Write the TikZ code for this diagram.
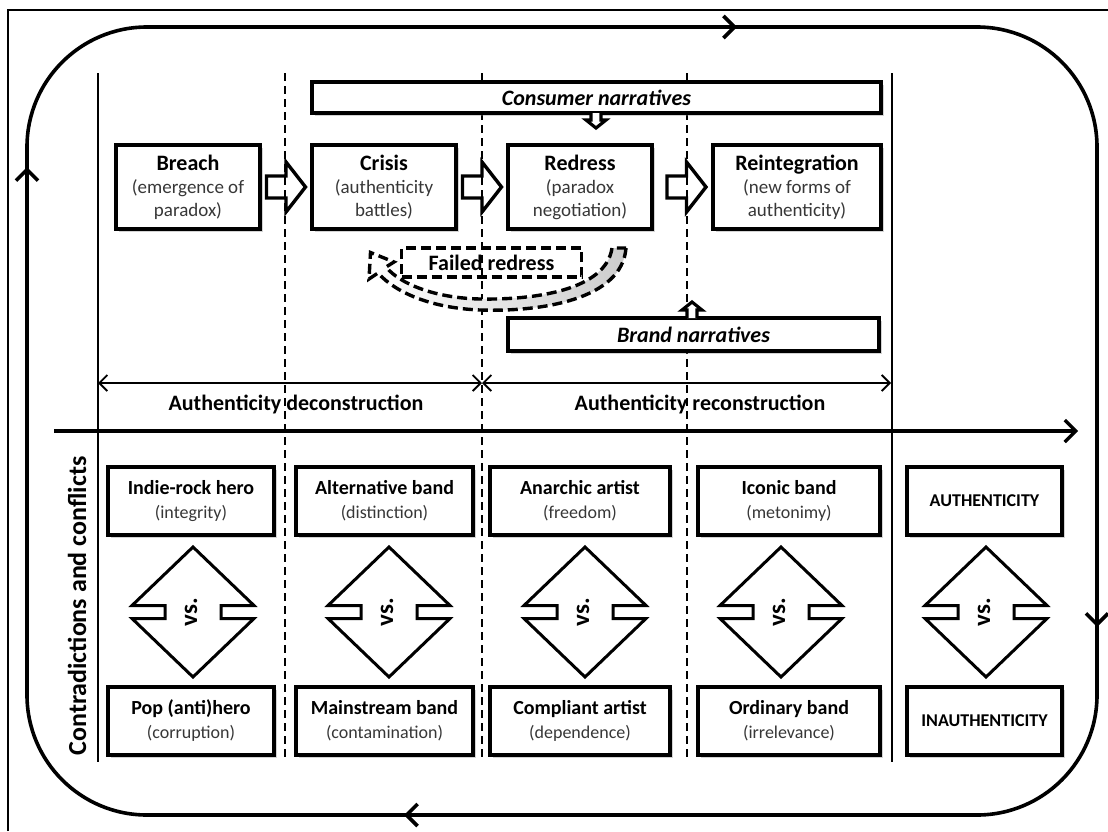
\documentclass[tikz,border=0pt]{standalone}
\usepackage{fontspec}
\setmainfont{Carlito}
\usetikzlibrary{arrows.meta,calc,shadows}
\definecolor{subgray}{RGB}{55,55,55}
\newcommand{\stagettl}[1]{{\fontsize{11}{11.5}\selectfont\bfseries #1}}
\newcommand{\rolettl}[1]{{\fontsize{10}{12}\selectfont\bfseries #1}}
\newcommand{\subtxt}[1]{{\color{subgray}#1}}
\tikzset{
  boxshadow/.style={drop shadow={shadow xshift=1.3pt,shadow yshift=-1.3pt,opacity=.35}},
  stagebox/.style={draw, line width=1.7pt, fill=white, minimum height=42pt, inner sep=2pt,
    align=center, font=\fontsize{9.5}{11.5}\selectfont, boxshadow},
  rolebox/.style={draw, line width=1.7pt, fill=white, minimum height=34pt, inner sep=2pt,
    align=center, font=\fontsize{9}{12}\selectfont, boxshadow},
  narrbox/.style={draw, line width=1.7pt, fill=white, inner sep=0pt,
    font=\fontsize{11}{13}\selectfont\bfseries\itshape, boxshadow},
  phase/.style={font=\fontsize{11}{13}\selectfont\bfseries},
  divider/.style={line width=1.2pt, dash pattern=on 4pt off 2.5pt},
  faildash/.style={line width=1.7pt, dash pattern=on 5pt off 2.5pt},
  vsarrow/.pic={
    \draw[line width=1.5pt, fill=white] (0,-65) -- (61,-6.5) -- (28,-6.5) -- (28,6.5) -- (61,6.5)
      -- (0,65) -- (-61,6.5) -- (-28,6.5) -- (-28,-6.5) -- (-61,-6.5) -- cycle;
    \node[rotate=90, font=\fontsize{12.5}{14}\selectfont\bfseries] (-txt) at (-2,0) {vs.};
  },
  blockarr/.pic={
    \draw[line width=1.7pt] (-19.5,-11) -- (0,-11) -- (0,-25) -- (19.5,0) -- (0,25) -- (0,11) -- (-19.5,11) -- cycle;
  }
}
\begin{document}
\begin{tikzpicture}[x=0.5pt,y=-0.5pt]
  \useasboundingbox (0,0) rectangle (1108,831);
  % frame and cycle
  \draw[line width=1.4pt] (8,831) -- (8,10) -- (1108,10);
  \draw[line width=1.8pt, rounded corners=60pt] (27,27) rectangle (1097,815);
  \draw[line width=1.8pt, -{Straight Barb[length=5.5pt,width=11pt]}] (700,27) -- (737,27);
  \draw[line width=1.8pt, -{Straight Barb[length=5.5pt,width=11pt]}] (1097,590) -- (1097,627);
  \draw[line width=1.8pt, -{Straight Barb[length=5.5pt,width=11pt]}] (440,815) -- (404,815);
  \draw[line width=1.8pt, -{Straight Barb[length=5.5pt,width=11pt]}] (27,205) -- (27,167);

  % columns
  \draw[line width=1.3pt] (98,73) -- (98,762);
  \draw[line width=1.3pt] (892,73) -- (892,762);
  \foreach \x in {285,482,687}
    \draw[divider] (\x,73) -- (\x,760);

  % narratives
  \node[narrbox, minimum width=284.5pt, minimum height=15.5pt] (consumer) at (596.5,97.5) {Consumer narratives};
  \node[narrbox, minimum width=185.5pt, minimum height=16.5pt] (brand) at (693.5,334.5) {Brand narratives};

  % stages
  \node[stagebox, minimum width=72pt] (breach) at (188,187) {\stagettl{Breach}\\\subtxt{(emergence of}\\\subtxt{paradox)}};
  \node[stagebox, minimum width=72pt] (crisis) at (384,187) {\stagettl{Crisis}\\\subtxt{(authenticity}\\\subtxt{battles)}};
  \node[stagebox, minimum width=72pt] (redress) at (580,187) {\stagettl{Redress}\\\subtxt{(paradox}\\\subtxt{negotiation)}};
  \node[stagebox, minimum width=84pt] (reint) at (797,187) {\stagettl{Reintegration}\\\subtxt{(new forms of}\\\subtxt{authenticity)}};
  \pic at ($(breach.east)!.5!(crisis.west)$) {blockarr};
  \pic at ($(crisis.east)!.5!(redress.west)$) {blockarr};
  \pic at ($(redress.east)!.5!(reint.west)+(4,0)$) {blockarr};
  \draw[line width=1.6pt, fill=white] (591,113) -- (591,120) -- (586,120) -- (596,128) -- (606,120) -- (601,120) -- (601,113);
  \draw[line width=1.6pt, fill=white] (687,318) -- (687,310) -- (682,310) -- (692,302) -- (702,310) -- (697,310) -- (697,318);

  % failed redress
  \node[draw, faildash, minimum width=90pt, minimum height=14.5pt, font=\fontsize{11}{13}\selectfont\bfseries] (fail) at (491.5,262.5) {Failed redress};
  \draw[faildash, left color=white, right color=gray!40]
    (626,248) .. controls (622,300) and (540,312) .. (480,310)
    .. controls (430,308) and (395,292) .. (378,273) -- (369,279) -- (370.5,252.5) -- (394,262) -- (386,267)
    .. controls (400,284) and (435,298) .. (480,299)
    .. controls (535,300) and (606,290) .. (612,248) -- cycle;

  % phases
  \coordinate (dstart) at (98,383);
  \coordinate (dmid) at (482,383);
  \coordinate (dend) at (891,383);
  \draw[line width=0.9pt, {Straight Barb[length=4pt,width=8pt]}-{Straight Barb[length=4pt,width=8pt]}] (dstart) -- (dmid);
  \draw[line width=0.9pt, {Straight Barb[length=4pt,width=8pt]}-{Straight Barb[length=4pt,width=8pt]}] (dmid) -- (dend);
  \node[phase] (decon) at (296,404) {Authenticity deconstruction};
  \node[phase] (recon) at (700,404) {Authenticity reconstruction};
  \coordinate (axstart) at (54,431);
  \coordinate (axend) at (1078,431);
  \draw[line width=1.6pt, -{Straight Barb[length=5.5pt,width=11pt]}] (axstart) -- (axend);

  % contradictions
  \node[rotate=90, font=\fontsize{13}{15}\selectfont\bfseries] (contra) at (77,606) {Contradictions and conflicts};
  \node[rolebox, minimum width=83pt] (hero) at (191,501) {\rolettl{Indie-rock hero}\\\subtxt{(integrity)}};
  \node[rolebox, minimum width=88.5pt] (alt) at (384.5,501) {\rolettl{Alternative band}\\\subtxt{(distinction)}};
  \node[rolebox, minimum width=90pt] (anarchic) at (580,501) {\rolettl{Anarchic artist}\\\subtxt{(freedom)}};
  \node[rolebox, minimum width=91pt] (iconic) at (789,501) {\rolettl{Iconic band}\\\subtxt{(metonimy)}};
  \node[rolebox, minimum width=77.5pt, font=\fontsize{9}{12}\selectfont\bfseries] (auth) at (984.5,501) {AUTHENTICITY};
  \node[rolebox, minimum width=83pt] (pop) at (191,721) {\rolettl{Pop (anti)hero}\\\subtxt{(corruption)}};
  \node[rolebox, minimum width=88.5pt] (mainstream) at (384.5,721) {\rolettl{Mainstream band}\\\subtxt{(contamination)}};
  \node[rolebox, minimum width=90pt] (compliant) at (580,721) {\rolettl{Compliant artist}\\\subtxt{(dependence)}};
  \node[rolebox, minimum width=91pt] (ordinary) at (789,721) {\rolettl{Ordinary band}\\\subtxt{(irrelevance)}};
  \node[rolebox, minimum width=77.5pt, font=\fontsize{9}{12}\selectfont\bfseries] (inauth) at (984.5,721) {INAUTHENTICITY};
  \pic (vs1) at (193,612) {vsarrow};
  \pic (vs2) at (389,612) {vsarrow};
  \pic (vs3) at (585,612) {vsarrow};
  \pic (vs4) at (781,612) {vsarrow};
  \pic (vs5) at (986,612) {vsarrow};
\end{tikzpicture}
\end{document}
